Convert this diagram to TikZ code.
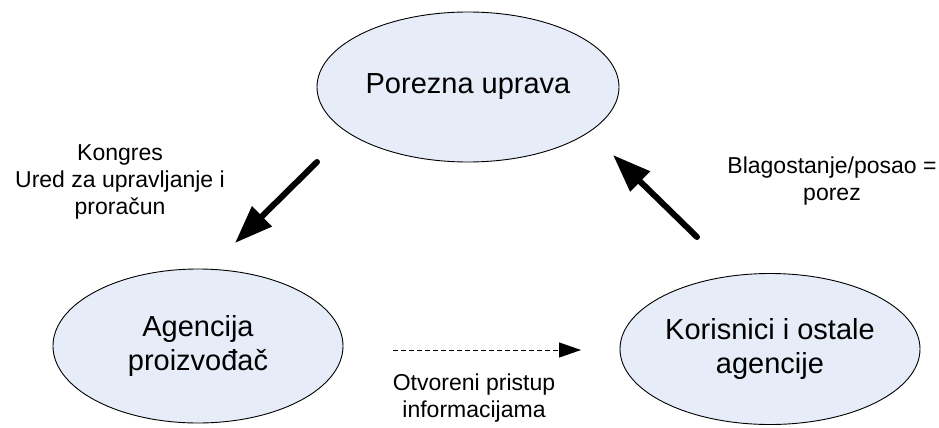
\documentclass[tikz,border=0pt]{standalone}
\usepackage{fontspec}
\setmainfont{Liberation Sans}
\usetikzlibrary{shapes.geometric,arrows.meta}
\definecolor{bubblefill}{RGB}{231,237,248}
\begin{document}
\begin{tikzpicture}[x=1pt,y=-1pt,
  bubble/.style={ellipse,draw=black,line width=0.9pt,fill=bubblefill,inner sep=0pt},
  bigtext/.style={font=\fontsize{29}{34}\selectfont,align=center,inner sep=0pt},
  smalltext/.style={font=\fontsize{23}{27}\selectfont,align=center,inner sep=0pt},
  bold arrow/.style={line width=6pt,line cap=round,-{Triangle[length=38pt,width=27pt]}},
  dash arrow/.style={line width=1pt,dash pattern=on 5pt off 3pt,-{Triangle[length=22pt,width=15pt]}}]
  \useasboundingbox (0,0) rectangle (939,428);

  % the three parties
  \node[bubble,minimum width=302pt,minimum height=150pt] (tax) at (468,87) {};
  \node[bigtext] (taxtext) at (tax.center) {Porezna uprava};

  \node[bubble,minimum width=290pt,minimum height=154pt] (agency) at (198,346) {};
  \node[bigtext] (agencytext) at (agency.center) {Agencija\\proizvođač};

  \node[bubble,minimum width=300pt,minimum height=151pt] (users) at (770,349) {};
  \node[bigtext] (userstext) at (users.center) {Korisnici i ostale\\agencije};

  % flows between them
  \coordinate (a1) at (317,162);
  \coordinate (a2) at (235,243);
  \draw[bold arrow] (a1) -- (a2);

  \coordinate (b1) at (697,237);
  \coordinate (b2) at (613,155);
  \draw[bold arrow] (b1) -- (b2);

  \coordinate (c1) at (393,350);
  \coordinate (c2) at (581,350);
  \draw[dash arrow] (c1) -- (c2);

  % flow labels
  \node[smalltext] (lbla) at (120,182) {Kongres\\Ured za upravljanje i\\proračun};
  \node[smalltext] (lblb) at (832,181) {Blagostanje/posao =\\porez};
  \node[smalltext] (lblc) at (474,398) {Otvoreni pristup\\informacijama};
\end{tikzpicture}
\end{document}
